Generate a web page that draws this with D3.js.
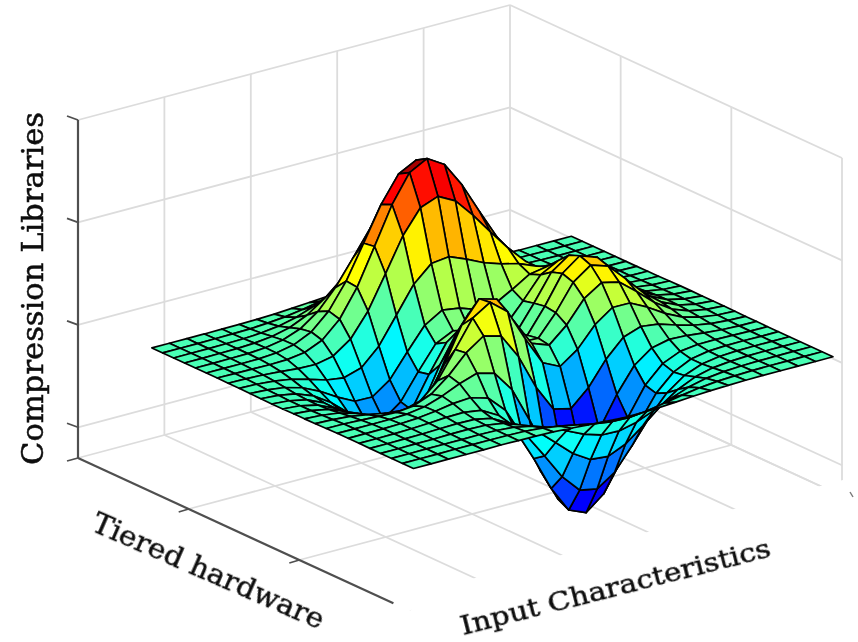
<!DOCTYPE html>
<html><head><meta charset="utf-8">
<script src="https://cdnjs.cloudflare.com/ajax/libs/d3/7.8.5/d3.min.js"></script>
<style>html,body{margin:0;padding:0;background:#fff}svg{display:block}</style>
</head><body><svg id="c" width="858" height="642"></svg>
<script>
// Axis values
const xValues=d3.range(25).map(i=>-3+i*0.25);
const yValues=d3.range(25).map(i=>-3+i*0.25);
const zTicks=[-5,0,5,10];
const wallFractionsLeft=[0.2,0.4,0.6,0.8,1];
const wallFractionsRight=[1/3,2/3,1];
const titleZ="Compression Libraries", titleY="Tiered hardware", titleX="Input Characteristics";
// Heights read row by row, first row y=-3, each row x=-3..3
const zRows=[
[0,0,0,0,0,.01,0,-.01,-.03,-.08,-.14,-.20,-.25,-.25,-.22,-.17,-.11,-.06,-.03,-.01,0,0,0,0,0],
[0,0,0,.01,.01,.01,0,-.02,-.09,-.22,-.39,-.56,-.68,-.70,-.61,-.46,-.30,-.17,-.08,-.04,-.01,0,0,0,0],
[0,0,.01,.01,.01,.02,0,-.07,-.24,-.53,-.92,-1.31,-1.58,-1.61,-1.41,-1.06,-.69,-.38,-.18,-.08,-.03,-.01,0,0,0],
[0,0,.01,.01,.03,.04,.01,-.12,-.43,-.99,-1.74,-2.50,-3.02,-3.10,-2.72,-2.05,-1.33,-.74,-.35,-.14,-.05,-.01,0,0,0],
[0,0,.01,.02,.05,.07,.05,-.13,-.59,-1.45,-2.64,-3.88,-4.76,-4.93,-4.35,-3.27,-2.10,-1.15,-.53,-.20,-.06,-.01,0,0,0],
[0,0,.01,.03,.07,.13,.15,.02,-.46,-1.48,-3.01,-4.70,-5.98,-6.33,-5.64,-4.25,-2.69,-1.42,-.61,-.20,-.04,0,.01,0,0],
[0,0,.01,.03,.08,.19,.33,.39,.15,-.67,-2.18,-4.07,-5.68,-6.32,-5.76,-4.32,-2.64,-1.27,-.44,-.07,.04,.05,.03,.01,0],
[0,-.01,-.01,-.01,.03,.16,.45,.83,1.11,.88,-.14,-1.85,-3.61,-4.60,-4.40,-3.23,-1.74,-.55,.08,.27,.23,.13,.06,.02,.01],
[-.01,-.02,-.06,-.10,-.13,-.04,.30,.98,1.86,2.46,2.23,.99,-.73,-2.02,-2.22,-1.43,-.27,.58,.88,.77,.50,.26,.11,.04,.01],
[-.02,-.05,-.12,-.26,-.42,-.51,-.28,.49,1.78,3.09,3.63,2.94,1.40,0,-.41,.20,1.18,1.79,1.78,1.35,.82,.41,.18,.06,.02],
[-.03,-.08,-.20,-.44,-.80,-1.16,-1.21,-.60,.80,2.50,3.56,3.31,2.00,.70,.39,1.14,2.20,2.76,2.56,1.87,1.12,.56,.24,.09,.03],
[-.03,-.10,-.27,-.60,-1.14,-1.78,-2.16,-1.83,-.56,1.23,2.56,2.62,1.58,.52,.48,1.50,2.75,3.37,3.09,2.24,1.34,.67,.28,.10,.03],
[-.04,-.11,-.30,-.69,-1.33,-2.14,-2.77,-2.71,-1.65,.07,1.48,1.75,.98,.19,.38,1.57,2.94,3.58,3.27,2.37,1.41,.70,.30,.11,.03],
[-.04,-.11,-.29,-.67,-1.32,-2.16,-2.87,-2.97,-2.15,-.64,.69,1.06,.52,-.03,.28,1.47,2.76,3.36,3.06,2.21,1.32,.66,.28,.10,.03],
[-.03,-.09,-.25,-.57,-1.12,-1.85,-2.49,-2.64,-2.00,-.76,.38,.79,.46,.09,.37,1.34,2.38,2.84,2.56,1.84,1.09,.54,.23,.08,.03],
[-.02,-.07,-.18,-.42,-.82,-1.33,-1.76,-1.78,-1.17,-.04,1.04,1.55,1.42,1.12,1.17,1.65,2.17,2.32,1.99,1.40,.82,.41,.17,.06,.02],
[-.01,-.04,-.11,-.25,-.48,-.74,-.86,-.60,.23,1.51,2.80,3.58,3.69,3.34,2.94,2.66,2.44,2.09,1.58,1.03,.58,.28,.11,.04,.01],
[-.01,-.02,-.06,-.12,-.20,-.23,-.05,.55,1.69,3.29,4.92,6.06,6.39,5.94,5.02,3.97,2.97,2.09,1.36,.79,.41,.19,.07,.02,.01],
[0,-.01,-.02,-.03,-.01,.11,.48,1.28,2.61,4.38,6.19,7.53,7.99,7.47,6.25,4.72,3.25,2.05,1.18,.62,.29,.12,.05,.02,0],
[0,0,0,.01,.07,.24,.64,1.43,2.67,4.29,5.96,7.22,7.67,7.19,5.99,4.45,2.96,1.78,.96,.47,.21,.08,.03,.01,0],
[0,0,.01,.02,.08,.23,.55,1.16,2.10,3.31,4.56,5.51,5.86,5.50,4.57,3.37,2.21,1.29,.68,.32,.13,.05,.02,.01,0],
[0,0,.01,.02,.06,.16,.36,.74,1.32,2.07,2.84,3.43,3.65,3.42,2.84,2.09,1.36,.79,.40,.19,.08,.03,.01,0,0],
[0,0,0,.01,.03,.08,.19,.39,.69,1.07,1.47,1.77,1.89,1.77,1.47,1.08,.70,.40,.21,.09,.04,.01,0,0,0],
[0,0,0,.01,.02,.04,.09,.17,.30,.47,.64,.77,.82,.77,.64,.47,.30,.17,.09,.04,.02,.01,0,0,0],
[0,0,0,0,.01,.01,.03,.06,.11,.17,.23,.28,.30,.28,.23,.17,.11,.06,.03,.01,.01,0,0,0,0]
];

const svg=d3.select("#c");
// Oblique 3D projection built from d3 scales
const uToX=d3.scaleLinear([0,1],[0,332]), uToY=d3.scaleLinear([0,1],[0,153]);
const vToX=d3.scaleLinear([0,1],[0,432]), vToY=d3.scaleLinear([0,1],[0,-115]);
const zToY=d3.scaleLinear([-6.5,10],[458,120]);
const yToU=d3.scaleLinear([3,-3],[.177,.965]);
const xToV=d3.scaleLinear([-3,3],[.035,1.006]);
const boxPoint=(u,v,z)=>[78+uToX(u)+vToX(v), zToY(z)+uToY(u)+vToY(v)];
const dataPoint=(x,y,z)=>boxPoint(yToU(y),xToV(x),z);
const color=d3.scaleLinear().domain([0,.125,.375,.625,.875,1].map(t=>-6.55+t*14.65))
  .range(["#00007f","#0000ff","#00ffff","#ffff00","#ff0000","#7f0000"]).clamp(true);

const seg=(g,a,b,stroke,w)=>g.append("line").attr("x1",a[0]).attr("y1",a[1]).attr("x2",b[0]).attr("y2",b[1])
  .attr("stroke",stroke).attr("stroke-width",w);

const blur=svg.append("defs").append("filter").attr("id","soft");
blur.append("feGaussianBlur").attr("stdDeviation",.55);

const grid=svg.append("g").attr("filter","url(#soft)");
const G="#dcdcdc";
const floorZ=-6.5;
// walls
[...zTicks,floorZ].forEach(z=>{
  seg(grid,boxPoint(0,0,z),boxPoint(0,1,z),G,1.8);
  seg(grid,boxPoint(0,1,z),boxPoint(1,1,z),G,1.8);
});
wallFractionsLeft.forEach(v=>{
  seg(grid,boxPoint(0,v,floorZ),boxPoint(0,v,10),G,1.8);
  seg(grid,boxPoint(0,v,floorZ),boxPoint(1,v,floorZ),G,1.8);
});
wallFractionsRight.forEach(u=>{
  seg(grid,boxPoint(u,1,floorZ),boxPoint(u,1,10),G,1.8);
  seg(grid,boxPoint(u,0,floorZ),boxPoint(u,1,floorZ),G,1.8);
});
// white band behind the lower labels
svg.append("polygon").attr("fill","#fff")
  .attr("points",[[858,476],[430,590],[380,642],[858,642]].join(" "));

// axes
const ax=svg.append("g").attr("filter","url(#soft)");
const A="#4f4f4f";
seg(ax,boxPoint(0,0,floorZ),boxPoint(0,0,10),A,2.2);
seg(ax,boxPoint(0,0,floorZ),boxPoint(.95,0,floorZ),A,2.2);
[...zTicks,floorZ].forEach(z=>{
  const p=boxPoint(0,0,z);
  seg(ax,p,[p[0]-11,z===floorZ?p[1]+3:p[1]-4],A,1.8);
});
[1/3,2/3].forEach(u=>{
  const p=boxPoint(u,0,floorZ);
  seg(ax,p,[p[0]-10,p[1]+3],A,1.8);
});
seg(ax,[850,492],[853,497],"#777",1.4);

// surface: far to near painter order
const surf=svg.append("g").attr("filter","url(#soft)");
const line=d3.line();
for(let j=yValues.length-2;j>=0;j--){
  for(let i=xValues.length-2;i>=0;i--){
    const pts=[[i,j],[i+1,j],[i+1,j+1],[i,j+1]].map(([a,b])=>dataPoint(xValues[a],yValues[b],zRows[b][a]));
    surf.append("path").attr("d",line(pts)+"Z")
      .attr("fill",color(zRows[j][i]))
      .attr("stroke","#050505").attr("stroke-width",1.7).attr("stroke-linejoin","round");
  }
}

// titles
const font="'DejaVu Serif',serif";
const titles=svg.append("g").attr("filter","url(#soft)");
function title(t,x,y,rot,size,len){
  titles.append("text").text(t).attr("transform",`translate(${x},${y}) rotate(${rot})`)
    .attr("font-family",font).attr("font-size",size).attr("fill","#111")
    .attr("stroke","#111").attr("stroke-width",.5)
    .attr("textLength",len).attr("lengthAdjust","spacingAndGlyphs");
}
title(titleZ,43,465,-90,30,353);
title(titleY,90,530,23.5,28,250);
title(titleX,463,635,-14.3,26,319);
</script></body></html>
